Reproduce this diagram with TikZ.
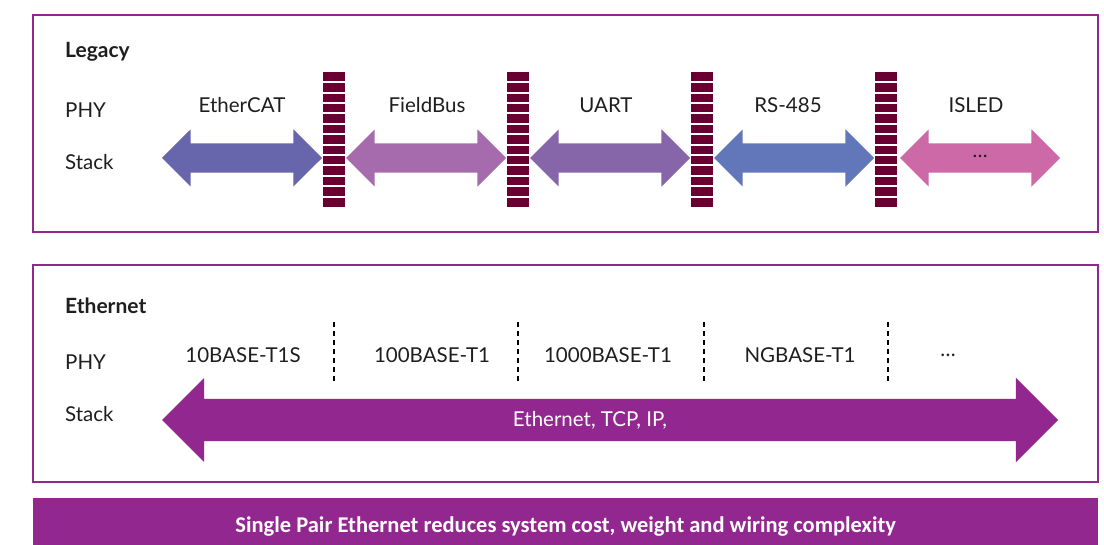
\documentclass[tikz,border=0pt]{standalone}
\usepackage{fontspec}
\setmainfont{Lato}
\newfontfamily\barfont{Carlito}
\usetikzlibrary{positioning,shapes.arrows}

\definecolor{spepurple}{HTML}{92278F}
\definecolor{brickred}{HTML}{6A0032}
\definecolor{ecatblue}{HTML}{6765AB}
\definecolor{fbuslilac}{HTML}{A56BAD}
\definecolor{uartviolet}{HTML}{8765A9}
\definecolor{rsblue}{HTML}{6177B9}
\definecolor{isledpink}{HTML}{CC69A6}
\definecolor{textgray}{HTML}{1E1E1E}

\begin{document}
\begin{tikzpicture}[
  x=1pt, y=-1pt,
  panel/.style={draw=spepurple, line width=1.5pt},
  title/.style={font=\fontsize{21}{23}\selectfont\bfseries, text=textgray, anchor=west, inner sep=0},
  rowlabel/.style={font=\fontsize{20.5}{23}\selectfont, text=textgray, anchor=west, inner sep=0},
  phylabel/.style={font=\fontsize{20.5}{23}\selectfont, text=textgray, inner sep=0},
  bus/.style={double arrow, draw=none, inner sep=0, text height=14.5pt, text depth=14.5pt,
    minimum height=160pt, double arrow head extend=14pt, font=\fontsize{20}{22}\selectfont, text=textgray},
  barrier/.style={fill=brickred, minimum width=22pt, minimum height=135pt, inner sep=0},
  divider/.style={line width=2pt, dash pattern=on 5pt off 4pt}
]
\useasboundingbox (0,0) rectangle (1104,545);

% panels
\draw[panel] (33,15) rectangle (1098,232);
\draw[panel] (33,265) rectangle (1098,482);
\node[fill=spepurple, minimum width=1065pt, minimum height=48pt, inner sep=0, anchor=north west] (claim) at (33,498) {};
\node[font=\barfont\fontsize{22.5}{25}\selectfont\bfseries, text=white] at ([yshift=-4pt]claim.center) {Single Pair Ethernet reduces system cost, weight and wiring complexity};

% legacy part
\node[title] (legacy) at (65,52) {Legacy};
\node[rowlabel] (lphy) at (65,110) {PHY};
\node[rowlabel] (lstack) at (65,162) {Stack};

\node[bus, fill=ecatblue] (ethercat) at (242,158) {};
\node[bus, fill=fbuslilac] (fieldbus) at (426,158) {};
\node[bus, fill=uartviolet] (uart) at (610,158) {};
\node[bus, fill=rsblue] (rs485) at (794,158) {};
\node[bus, fill=isledpink] (isled) at (980,158) {\dots};

\foreach \n/\xpos in {b1/334, b2/518, b3/702, b4/886} {
  \node[barrier] (\n) at (\xpos,139.5) {};
  \foreach \k in {1,...,12}
    \draw[white, line width=2pt] ([yshift=-\k*10.4pt]\n.north west) -- ([yshift=-\k*10.4pt]\n.north east);
}

\node[phylabel] at (242,105) {EtherCAT};
\node[phylabel] at (427,105) {FieldBus};
\node[phylabel] at (606,105) {UART};
\node[phylabel] at (788,105) {RS-485};
\node[phylabel] at (976,105) {ISLED};

% ethernet part
\node[title] (ethernet) at (65,306) {Ethernet};
\node[rowlabel] (ephy) at (65,362) {PHY};
\node[rowlabel] (estack) at (65,414) {Stack};

\node[phylabel] at (243,355) {10BASE-T1S};
\node[phylabel] at (432,355) {100BASE-T1};
\node[phylabel] at (608,355) {1000BASE-T1};
\node[phylabel] at (800,355) {NGBASE-T1};
\node[phylabel] at (948,355) {\dots};

\foreach \xpos in {334, 518, 704, 888}
  \draw[divider] (\xpos,322) -- (\xpos,384);

\node[bus, fill=spepurple, minimum height=896pt, text height=21pt, text depth=21pt,
  double arrow head extend=21pt] (stack) at (610,420) {};
\node[phylabel, text=white] at (590,420) {Ethernet, TCP, IP,};
\end{tikzpicture}
\end{document}
